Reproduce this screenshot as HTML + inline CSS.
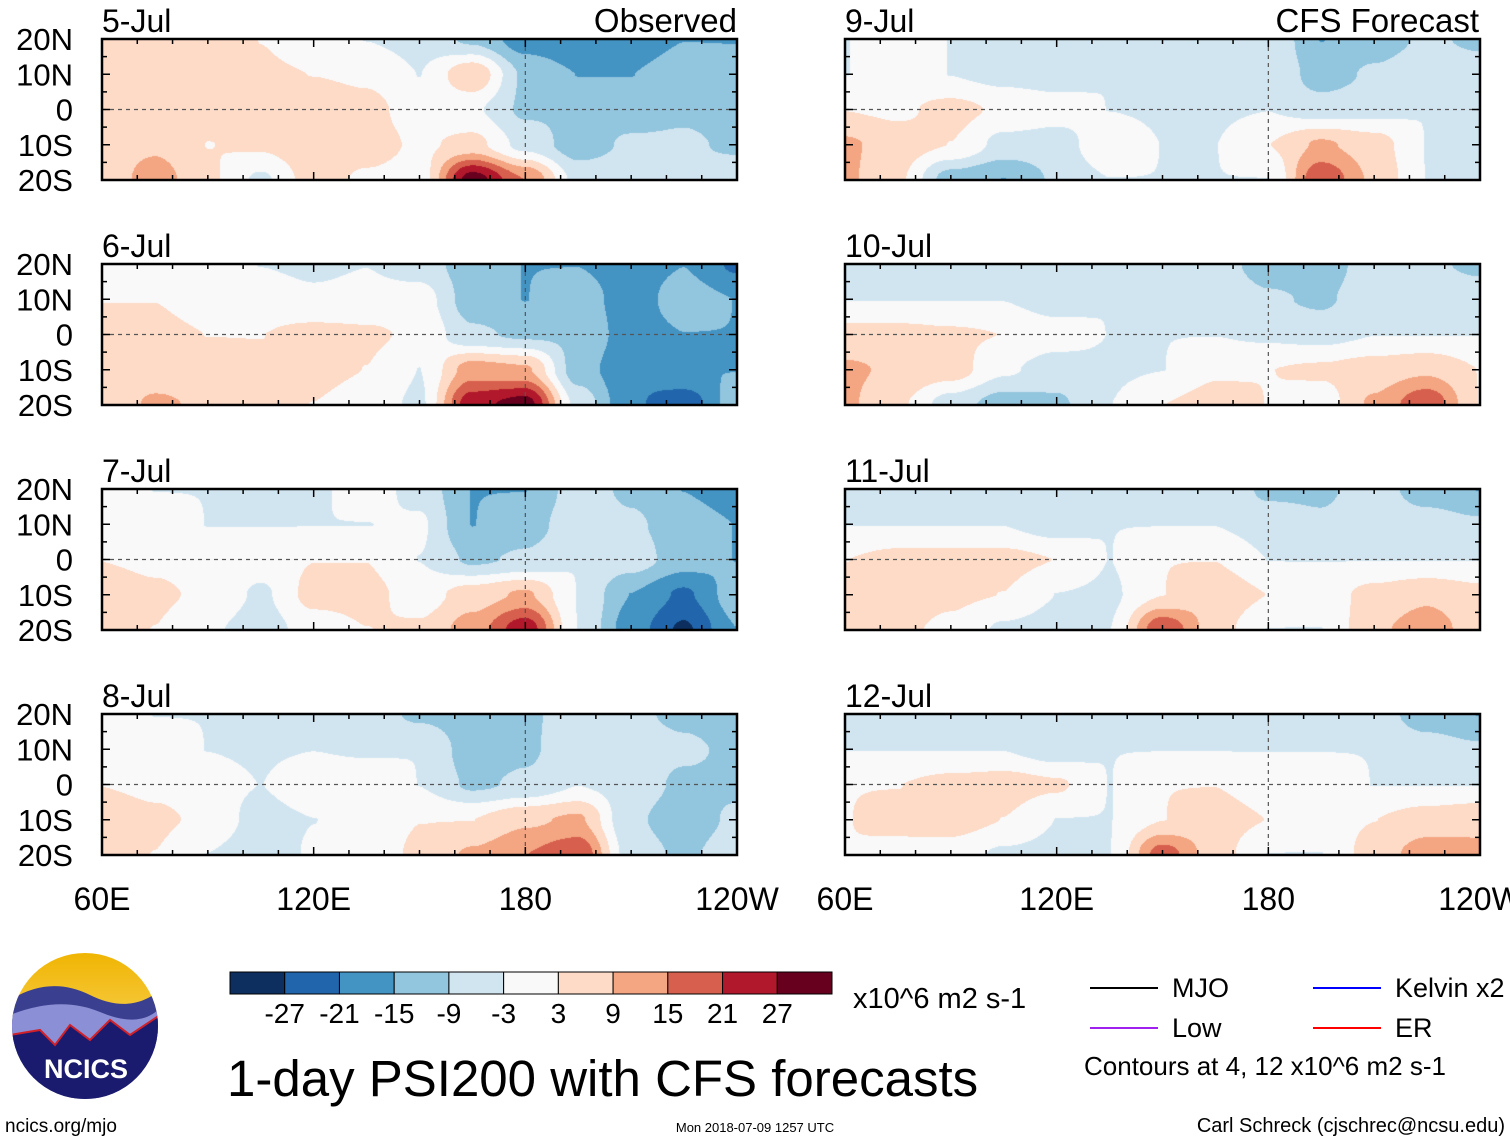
<!DOCTYPE html>
<html><head><meta charset="utf-8">
<style>
body{margin:0;background:#fff;width:1510px;height:1142px;overflow:hidden;position:relative;font-family:"Liberation Sans",sans-serif;}
canvas{position:absolute;}
svg{position:absolute;left:0;top:0;}
</style></head>
<body>
<div id="maps"></div>
<svg id="ov" width="1510" height="1142"></svg>
<script>
// grid lon 60..240 step 15, lat rows 20,10,0,-10,-20
const lons=[60,75,90,105,120,135,150,165,180,195,210,225,240];
const lats=[20,10,0,-10,-20];
const dates=["5-Jul","6-Jul","7-Jul","8-Jul","9-Jul","10-Jul","11-Jul","12-Jul"];
const levels=[-27,-21,-15,-9,-3,3,9,15,21,27];
const levelLabels=["-27","-21","-15","-9","-3","3","9","15","21","27"];
const colors=["#0c2f60","#2166ac","#4393c3","#92c5de","#d1e5f0","#f9f9f9","#fddbc7","#f4a582","#d6604d","#b2182b","#67001f"];
const f5=[[5,5,8,3,0,-3,-5,-10,-18,-20,-18,-15,-15],[5,6,4,4,3,2,-3,8,-10,-15,-15,-12,-14],[5,5,5,6,8,5,0,-2,-10,-10,-12,-10,-12],[6,8,3,4,8,6,2,5,-5,-12,-8,-8,-10],[5,12,4,-4,6,2,0,30,15,-5,-5,-8,-5]];
const f6=[[0,0,0,-3,-4,-3,-6,-12,-15,-15,-18,-15,-22],[3,3,0,0,-2,-1,0,-12,-15,-12,-18,-12,-15],[5,5,3,3,5,4,2,-8,-10,-10,-18,-15,-15],[5,6,6,4,5,3,-3,12,10,-12,-20,-15,-15],[5,10,8,5,3,0,-4,25,30,-5,-20,-25,-12]];
const f7=[[0,-3,-3,-3,-4,0,-5,-15,-15,-6,-10,-15,-18],[0,0,-3,-3,-3,-3,-2,-15,-12,-5,-8,-12,-15],[3,2,0,0,3,3,-3,-10,-8,-3,-6,-12,-15],[6,4,2,-4,5,5,0,6,10,-3,-15,-22,-12],[5,3,-2,-6,0,3,4,12,25,-3,-18,-28,-15]];
const f8=[[0,-3,-3,-3,-4,-6,-10,-12,-10,-6,-8,-10,-12],[0,0,-3,-4,-3,-4,-3,-12,-10,-5,-6,-8,-10],[3,2,0,-3,3,3,-3,-10,-8,-3,-6,-10,-10],[6,4,2,-6,-3,0,3,3,8,10,-8,-12,-8],[5,3,-3,-8,-2,0,4,10,15,20,-6,-10,-6]];
const f9=[[-3,0,-3,-5,-6,-3,-8,-4,-3,-15,-12,-8,-10],[-3,0,-3,-5,-6,-3,-8,-3,-3,-12,-8,-5,-6],[3,2,5,2,0,-3,-4,-4,-3,-6,-5,-3,-3],[10,6,3,-5,-6,2,-3,-3,3,10,6,-3,-3],[10,4,-12,-15,-8,-3,-3,-3,-3,20,8,-3,-3]];
const f10=[[-3,-3,-3,-3,-6,-4,-4,-6,-12,-12,-6,-8,-10],[-3,-3,-3,-3,-6,-3,-4,-3,-8,-10,-5,-5,-6],[5,5,4,3,0,-3,-3,-3,-4,-5,-3,-3,-3],[10,8,6,-2,-6,-4,-3,2,3,4,6,8,3],[10,4,-6,-12,-10,-3,3,6,3,0,10,20,3]];
const f11=[[-3,-3,-3,-5,-6,-3,-3,-4,-10,-10,-6,-12,-15],[-3,-3,-3,-3,-6,-3,-3,-3,-6,-8,-4,-6,-8],[3,5,5,5,3,-3,3,3,-3,-3,-3,-3,-3],[6,6,4,3,-3,-4,3,8,3,0,5,8,5],[5,4,2,-4,-6,-3,20,6,-3,-3,8,12,6]];
const f12=[[-3,-3,-3,-4,-6,-3,-3,-3,-6,-4,-6,-12,-15],[-3,-3,-3,-3,-6,-3,-3,-3,-3,-3,-3,-6,-8],[3,3,5,6,4,-3,3,3,0,0,-3,-3,-3],[3,4,6,3,-3,-3,3,6,3,0,3,6,8],[3,2,0,-4,-5,-3,18,6,-3,-3,6,12,10]];
const fields=[f5,f6,f7,f8,f9,f10,f11,f12];

const PW=635,PH=141,colX=[102,845],rowY=[39,264,489,714];
const xOf=(lon,x0)=>x0+(lon-60)*PW/180;
const yOf=(lat,y0)=>y0+(20-lat)*PH/40;
const NS="http://www.w3.org/2000/svg";
const ov=document.getElementById('ov');
function el(tag,attrs,parent){const e=document.createElementNS(NS,tag);for(const k in attrs)e.setAttribute(k,attrs[k]);(parent||ov).appendChild(e);return e;}
function txt(s,x,y,size,anchor,name){const t=el('text',{x:x,y:y,'font-size':size,'text-anchor':anchor||'start','font-family':'"Liberation Sans",sans-serif',fill:'#000'});t.textContent=s;return t;}
function hexToRgb(h){return [parseInt(h.slice(1,3),16),parseInt(h.slice(3,5),16),parseInt(h.slice(5,7),16)];}
const rgb=colors.map(hexToRgb);
function colorIdx(v){v=v-0.05;let i=0;while(i<levels.length&&v>levels[i])i++;return i;}
function sample(f,lon,lat){
  let fx=(lon-lons[0])/15, fy=(lats[0]-lat)/10;
  let i=Math.max(0,Math.min(Math.floor(fx),lons.length-2)), j=Math.max(0,Math.min(Math.floor(fy),lats.length-2));
  let tx=Math.min(1,Math.max(0,fx-i)), ty=Math.min(1,Math.max(0,fy-j));
  tx=tx*tx*(3-2*tx); ty=ty*ty*(3-2*ty);
  const a=f[j][i],b=f[j][i+1],c=f[j+1][i],d=f[j+1][i+1];
  return (a*(1-tx)+b*tx)*(1-ty)+(c*(1-tx)+d*tx)*ty;
}
const maps=document.getElementById('maps');
fields.forEach((f,p)=>{
  const x0=colX[p<4?0:1], y0=rowY[p%4];
  const cv=document.createElement('canvas');cv.width=PW;cv.height=PH;
  cv.style.left=x0+'px';cv.style.top=y0+'px';
  
  
  maps.appendChild(cv);
  const ctx=cv.getContext('2d');const im=ctx.createImageData(PW,PH);
  for(let y=0;y<PH;y++)for(let x=0;x<PW;x++){
    const lon=60+x*180/(PW-1), lat=20-y*40/(PH-1);
    const c=rgb[colorIdx(sample(f,lon,lat))];const k=(y*PW+x)*4;
    im.data[k]=c[0];im.data[k+1]=c[1];im.data[k+2]=c[2];im.data[k+3]=255;
  }
  ctx.putImageData(im,0,0);
  const fr=el('rect',{x:x0,y:y0,width:PW,height:PH,fill:'none',stroke:'#000','stroke-width':2.5});
  
  
  el('line',{x1:x0,x2:x0+PW,y1:yOf(0,y0),y2:yOf(0,y0),stroke:'#555','stroke-dasharray':'4,4','stroke-width':1.2});
  el('line',{x1:xOf(180,x0),x2:xOf(180,x0),y1:y0,y2:y0+PH,stroke:'#555','stroke-dasharray':'4,4','stroke-width':1.2});
  for(let lon=60;lon<=240;lon+=10){const xx=xOf(lon,x0);const L=(lon%60===0)?8:5;
    el('line',{x1:xx,x2:xx,y1:y0,y2:y0+L,stroke:'#000','stroke-width':1.5});
    el('line',{x1:xx,x2:xx,y1:y0+PH,y2:y0+PH-L,stroke:'#000','stroke-width':1.5});}
  for(let lat=-20;lat<=20;lat+=5){const yy=yOf(lat,y0);const L=(lat%10===0)?8:5;
    el('line',{x1:x0,x2:x0+L,y1:yy,y2:yy,stroke:'#000','stroke-width':1.5});
    el('line',{x1:x0+PW,x2:x0+PW-L,y1:yy,y2:yy,stroke:'#000','stroke-width':1.5});}
  txt(dates[p],x0,y0-7,32,'start','panel-date-label');
  if(p<4){const ll=["20N","10N","0","10S","20S"];
    [20,10,0,-10,-20].forEach((lat,i)=>txt(ll[i],73,yOf(lat,y0)+11,31,'end','lat-tick-label'));}
});
txt("Observed",737,32,33,'end','observed-label');
txt("CFS Forecast",1479,32,33,'end','forecast-label');
[[0,"60E"],[1,"120E"],[2,"180"],[3,"120W"]].forEach(([i,s])=>{
  [102,845].forEach(x0=>txt(s,x0+i*PW/3,910,32,'middle','lon-tick-label'));
});
const cbX=230,cbY=972,cbW=602,cbH=22,bw=cbW/colors.length;
colors.forEach((c,i)=>{const r=el('rect',{x:cbX+i*bw,y:cbY,width:bw,height:cbH,fill:c,stroke:'#000','stroke-width':1});
  
  });
levelLabels.forEach((s,i)=>txt(s,cbX+(i+1)*bw,1023,28,'middle','colorbar-label'));
txt("x10^6 m2 s-1",853,1008,29,'start','colorbar-units');
txt("1-day PSI200 with CFS forecasts",227,1096,51,'start','chart-title');
const leg=[[1090,988,'#000','MJO'],[1090,1028,'#a020f0','Low'],[1313,988,'#0000ff','Kelvin x2'],[1313,1028,'#ff0000','ER']];
leg.forEach(([x,y,c,s])=>{const l=el('line',{x1:x,x2:x+68,y1:y,y2:y,stroke:c,'stroke-width':2});
  
  
  txt(s,x+82,y+9,27,'start','legend-entry');});
txt("Contours at 4, 12 x10^6 m2 s-1",1084,1075,26,'start','contour-note');
txt("ncics.org/mjo",5,1132,19,'start','source-url');
txt("Mon 2018-07-09 1257 UTC",755,1132,13,'middle','timestamp');
txt("Carl Schreck (cjschrec@ncsu.edu)",1505,1132,20,'end','author-credit');
const defs=el('defs',{});
const lg=el('linearGradient',{id:'sky',x1:0,y1:0,x2:0,y2:1},defs);
el('stop',{offset:'0','stop-color':'#f0b400'},lg);el('stop',{offset:'1','stop-color':'#fde48a'},lg);
const cp=el('clipPath',{id:'lc'},defs);el('circle',{cx:85,cy:1026,r:73},cp);
const g=el('g',{'clip-path':'url(#lc)'});


el('rect',{x:10,y:950,width:150,height:150,fill:'url(#sky)'},g);
el('path',{d:'M10 1000 Q50 975 90 995 T160 990 L160 1100 L10 1100Z',fill:'#3b3f8f'},g);
el('path',{d:'M10 1015 Q60 995 100 1012 T160 1008 L160 1100 L10 1100Z',fill:'#8b8fd6'},g);
el('path',{d:'M10 1035 L40 1030 L55 1045 L70 1025 L90 1040 L110 1020 L130 1035 L160 1015 L160 1100 L10 1100Z',fill:'#1a1a6e',stroke:'#d0202a','stroke-width':2},g);
const lt=txt("NCICS",86,1078,27,'middle','logo-text');lt.setAttribute('fill','#fff');lt.setAttribute('font-weight','bold');
</script>
</body></html>
